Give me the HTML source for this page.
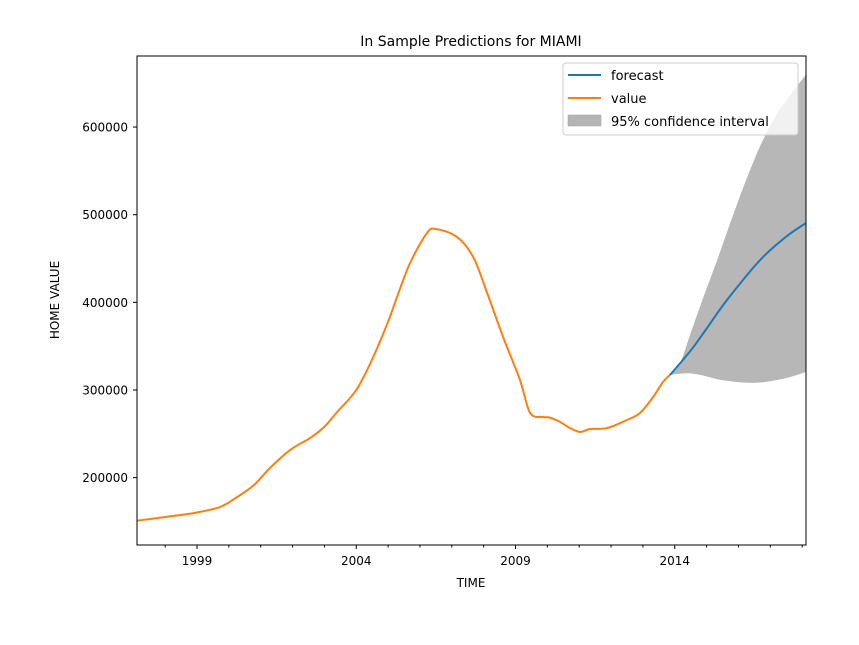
<!DOCTYPE html>
<html><head><meta charset="utf-8"><style>
html,body{margin:0;padding:0;background:#fff;}
svg{display:block;font-family:"DejaVu Sans","Liberation Sans",sans-serif;}
</style></head><body>
<svg id="chart" width="859" height="645" viewBox="0 0 859 645">
<defs><clipPath id="plotclip"><rect x="137" y="56" width="669" height="489"/></clipPath></defs>
<text x="471" y="46" text-anchor="middle" font-size="14" fill="#000">In Sample Predictions for MIAMI</text>
<g id="ci" clip-path="url(#plotclip)"></g>
<g id="lines" clip-path="url(#plotclip)"></g>
<rect x="137" y="56" width="669" height="489" fill="none" stroke="#000" stroke-width="1"/>
<g id="xaxis"></g>
<g id="yaxis"></g>
<text x="471" y="587" text-anchor="middle" font-size="12">TIME</text>
<text transform="translate(59,300) rotate(-90)" text-anchor="middle" font-size="12">HOME VALUE</text>
<g>
<rect x="563" y="63" width="235" height="72" rx="3" fill="#fff" fill-opacity="0.8" stroke="#ccc"/>
<line x1="568" y1="75" x2="601" y2="75" stroke="#1f77b4" stroke-width="2"/>
<text x="611" y="80" font-size="13">forecast</text>
<line x1="568" y1="98" x2="601" y2="98" stroke="#ff7f0e" stroke-width="2"/>
<text x="611" y="103" font-size="13">value</text>
<rect x="568" y="115" width="33" height="11" fill="#b5b5b5" stroke="#a0a0a0" stroke-width="0.5"/>
<text x="611" y="126" font-size="13">95% confidence interval</text>
</g>
</svg>
<script>
const valueYears = [1997.12,1998.06,1998.91,1999.72,2000.26,2000.79,2001.29,2001.92,2002.55,2002.99,2003.40,2004.0,2004.5,2005.0,2005.28,2005.69,2006.22,2006.5,2007.16,2007.67,2008.11,2008.61,2009.14,2009.46,2009.86,2010.08,2010.40,2010.71,2011.03,2011.34,2011.87,2012.5,2012.91,2013.32,2013.63,2013.85];
const valueSeries = [150900,155400,159700,166500,177900,191600,211000,231500,245200,257800,274900,300000,335000,378000,406100,444900,479100,483700,474600,451800,410700,360500,311400,273800,269200,268500,263500,256600,252100,255500,256600,265800,273800,292000,309100,317100];
const forecastYears = [2013.85,2014.5,2015.0,2015.64,2016.68,2017.5,2018.12];
const forecastSeries = [317100,345000,370000,402700,448300,475000,490500];
const ciYears = [2013.85,2014.16,2014.5,2014.89,2015.3,2015.64,2016.14,2016.68,2017.21,2017.6,2018.12];
const ciUpper = [317100,330000,365000,405000,445000,480000,530000,578300,615000,635000,660000];
const ciLower = [317100,318500,319000,316500,312500,310500,308500,308500,311400,314500,320500];
const xTicks = [1999,2004,2009,2014];
const xMinorTicks = [1998,2000,2001,2002,2003,2005,2006,2007,2008,2010,2011,2012,2013,2015,2016,2017,2018];
const yTicks = [200000,300000,400000,500000,600000];

const X0=137,X1=806,Y0=56,Y1=545;
function xs(t){return 197+(t-1999)*31.85;}
function ys(v){return 390-(v-300000)*0.0008765;}
const NS="http://www.w3.org/2000/svg";
function mk(tag,attrs,parent){const e=document.createElementNS(NS,tag);for(const k in attrs)e.setAttribute(k,attrs[k]);parent.appendChild(e);return e;}
function spline(pts){
  let d="M"+pts[0][0].toFixed(2)+","+pts[0][1].toFixed(2);
  for(let i=0;i<pts.length-1;i++){
    const p0=pts[Math.max(i-1,0)],p1=pts[i],p2=pts[i+1],p3=pts[Math.min(i+2,pts.length-1)];
    const c1=[p1[0]+(p2[0]-p0[0])/6,p1[1]+(p2[1]-p0[1])/6];
    const c2=[p2[0]-(p3[0]-p1[0])/6,p2[1]-(p3[1]-p1[1])/6];
    d+="C"+c1[0].toFixed(2)+","+c1[1].toFixed(2)+" "+c2[0].toFixed(2)+","+c2[1].toFixed(2)+" "+p2[0].toFixed(2)+","+p2[1].toFixed(2);
  }
  return d;
}
function pts(xsArr,vs){return xsArr.map((t,i)=>[xs(t),ys(vs[i])]);}

const up=pts(ciYears,ciUpper), lo=pts(ciYears,ciLower).reverse();
let dBand=spline(up)+"L"+lo[0][0]+","+lo[0][1]+spline(lo).replace(/^[^C]*/,"")+"Z";
const band=mk("path",{d:dBand,fill:"#b3b3b3","fill-opacity":"0.95",stroke:"none"},document.getElementById("ci"));



const lg=document.getElementById("lines");
const vl=mk("path",{d:spline(pts(valueYears,valueSeries)),fill:"none",stroke:"#ff7f0e","stroke-width":"2"},lg);


const fl=mk("path",{d:spline(pts(forecastYears,forecastSeries)),fill:"none",stroke:"#1f77b4","stroke-width":"2"},lg);



const xa=document.getElementById("xaxis");
xTicks.forEach(t=>{
  const x=xs(t);
  const l=mk("line",{x1:x,x2:x,y1:Y1,y2:Y1+4,stroke:"#000"},xa);
  
  
  const tx=mk("text",{x:x,y:Y1+20,"text-anchor":"middle","font-size":"12"},xa);
  tx.textContent=t;
  
  
});
xMinorTicks.forEach(t=>{
  const x=xs(t);
  const l=mk("line",{x1:x,x2:x,y1:Y1,y2:Y1+2.5,stroke:"#000"},xa);
  
  
});
const ya=document.getElementById("yaxis");
yTicks.forEach(v=>{
  const y=ys(v);
  const l=mk("line",{x1:X0-4,x2:X0,y1:y,y2:y,stroke:"#000"},ya);
  
  
  const tx=mk("text",{x:X0-9,y:y+4.5,"text-anchor":"end","font-size":"12"},ya);
  tx.textContent=v;
  
  
});
</script>
</body></html>
